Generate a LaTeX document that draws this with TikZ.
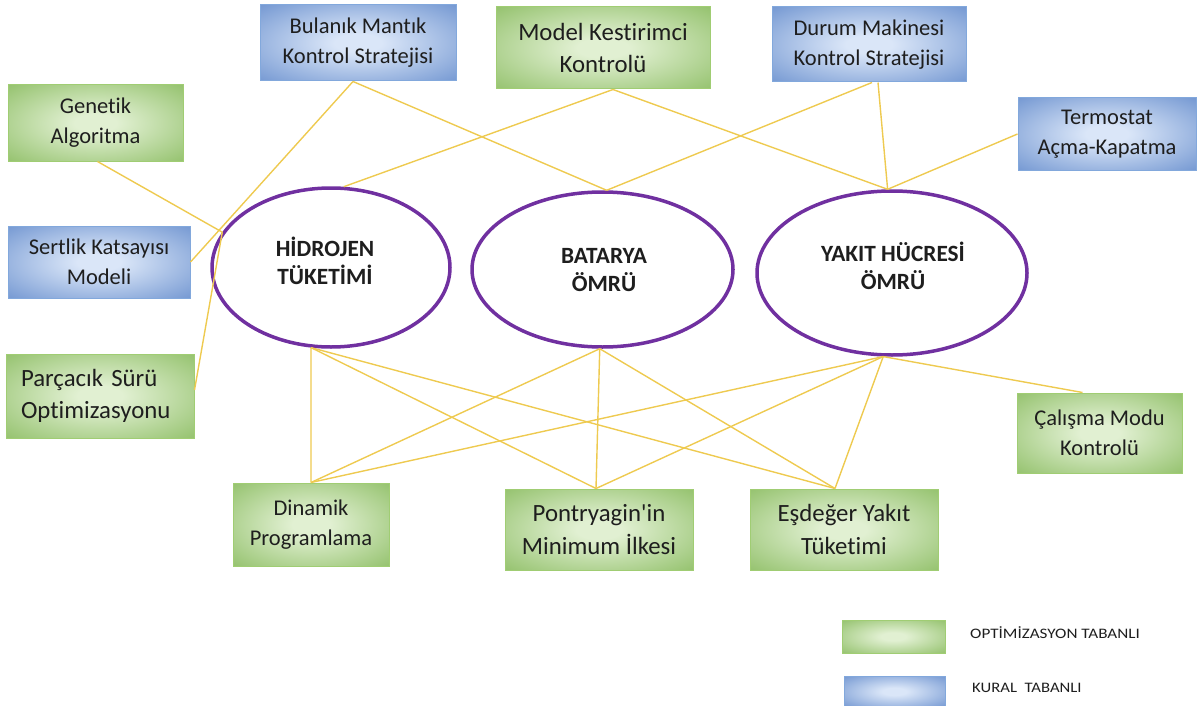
\documentclass[tikz,border=0pt]{standalone}
\usepackage{fontspec}
\usepackage{graphicx}
\setmainfont{Carlito}
\newfontfamily\boxfont{Carlito}[Ligatures=NoCommon]
\usetikzlibrary{shapes.geometric}
\definecolor{gouter}{RGB}{112,172,62}
\definecolor{ginner}{RGB}{225,240,210}
\definecolor{gline}{RGB}{160,205,115}
\definecolor{bouter}{RGB}{68,115,192}
\definecolor{binner}{RGB}{218,230,248}
\definecolor{bline}{RGB}{130,168,220}
\definecolor{purp}{RGB}{112,48,160}
\definecolor{gold}{RGB}{238,202,80}
\definecolor{txt}{RGB}{30,30,30}
\pgfdeclareradialshading{gshade}{\pgfpoint{0bp}{0bp}}{color(0bp)=(ginner); color(6bp)=(ginner); color(50bp)=(gouter)}
\pgfdeclareradialshading{bshade}{\pgfpoint{0bp}{0bp}}{color(0bp)=(binner); color(6bp)=(binner); color(50bp)=(bouter)}
\begin{document}
\begin{tikzpicture}[x=1pt,y=-1pt,
  box/.style={rectangle, inner sep=0pt, align=center, text=txt, font=\boxfont\fontsize{22.5}{30}\selectfont, line width=1pt},
  big/.style={font=\boxfont\fontsize{24.8}{32.5}\selectfont},
  gbox/.style={box, shade, shading=gshade, draw=gline},
  bbox/.style={box, shade, shading=bshade, draw=bline},
  oval/.style={ellipse, draw=purp, line width=3.5pt, fill=white, inner sep=0pt},
  otext/.style={align=center, text=txt, font=\boxfont\fontsize{23.3}{28.5}\selectfont\bfseries},
  link/.style={draw=gold, line width=1.4pt},
  legtext/.style={anchor=west, inner sep=0pt, text=txt, font=\boxfont\fontsize{14.5}{17}\selectfont}]
\useasboundingbox (0,0) rectangle (1201,706);

% ellipses
\node[oval, minimum width=238pt, minimum height=159pt] (h) at (331,267.5) {};
\node[oval, minimum width=261pt, minimum height=155pt] (b) at (602.5,269.5) {};
\node[oval, minimum width=270pt, minimum height=164pt] (y) at (892,273) {};
\node[otext] (htx) at (325,261) {HİDROJEN\\TÜKETİMİ};
\node[otext] (btx) at (604,270) {BATARYA\\ÖMRÜ};
\node[otext] (ytx) at (893,266) {YAKIT HÜCRESİ\\ÖMRÜ};

% boxes
\node[gbox, minimum width=175pt, minimum height=76pt] (genetik) at (95.5,123) {Genetik\\Algoritma};
\node[bbox, minimum width=196pt, minimum height=76pt] (bulanik) at (358,43) {Bulanık Mantık\\Kontrol Stratejisi};
\node[gbox, big, minimum width=214pt, minimum height=82pt] (model) at (603,48) {Model Kestirimci\\Kontrolü};
\node[bbox, minimum width=194pt, minimum height=75pt] (durum) at (869,44.5) {Durum Makinesi\\Kontrol Stratejisi};
\node[bbox, minimum width=178pt, minimum height=72pt] (termostat) at (1107,134) {Termostat\\Açma-Kapatma};
\node[bbox, minimum width=182pt, minimum height=72pt] (sertlik) at (99,262) {Sertlik Katsayısı\\Modeli};
\node[gbox, big, minimum width=188pt, minimum height=84pt, text width=158pt, align=left] (parcacik) at (100,396) {Parçacık Sürü\\Optimizasyonu};
\node[gbox, minimum width=156pt, minimum height=83pt] (dinamik) at (311,524.5) {Dinamik\\Programlama};
\node[gbox, big, minimum width=188pt, minimum height=81pt] (pontryagin) at (599,529.5) {Pontryagin\char"27 in\\Minimum İlkesi};
\node[gbox, big, minimum width=188pt, minimum height=81pt] (esdeger) at (844,529.5) {Eşdeğer Yakıt\\Tüketimi};
\node[gbox, minimum width=165pt, minimum height=80pt] (calisma) at (1099.5,433) {Çalışma Modu\\Kontrolü};

% legend
\node[gbox, minimum width=103pt, minimum height=33pt] (leg1) at (893.5,636.5) {};
\node[bbox, minimum width=101pt, minimum height=31pt] (leg2) at (894.5,691.5) {};
\node[legtext] (leg1t) at (970,632.5) {\scalebox{1.18}[1]{OPTİMİZASYON TABANLI}};
\node[legtext] (leg2t) at (972,687.5) {\scalebox{1.15}[1]{KURAL~~TABANLI}};

% connectors (top)
\draw[link] ([xshift=2pt]genetik.south) -- (h.162.4);
\draw[link] ([xshift=-5pt]bulanik.south) -- (sertlik.east);
\draw[link] ([yshift=6pt]parcacik.east) -- (h.162.4);
\draw[link] ([xshift=10pt]model.south) -- (h.81);
\draw[link] ([xshift=-5pt]bulanik.south) -- (b.87);
\draw[link] ([xshift=10pt]model.south) -- (y.93);
\draw[link] ([xshift=3pt]durum.south) -- (b.87);
\draw[link] ([xshift=9pt]durum.south) -- (y.93);
\draw[link] (termostat.west) -- (y.93);

% connectors (bottom)
\foreach \s in {h.256, b.268, y.264} {
  \draw[link] (\s) -- (dinamik.north);
  \draw[link] (\s) -- ([xshift=-3pt]pontryagin.north);
  \draw[link] (\s) -- ([xshift=-9pt]esdeger.north);
}
\draw[link] (y.264) -- ([xshift=-17pt]calisma.north);
\end{tikzpicture}
\end{document}
